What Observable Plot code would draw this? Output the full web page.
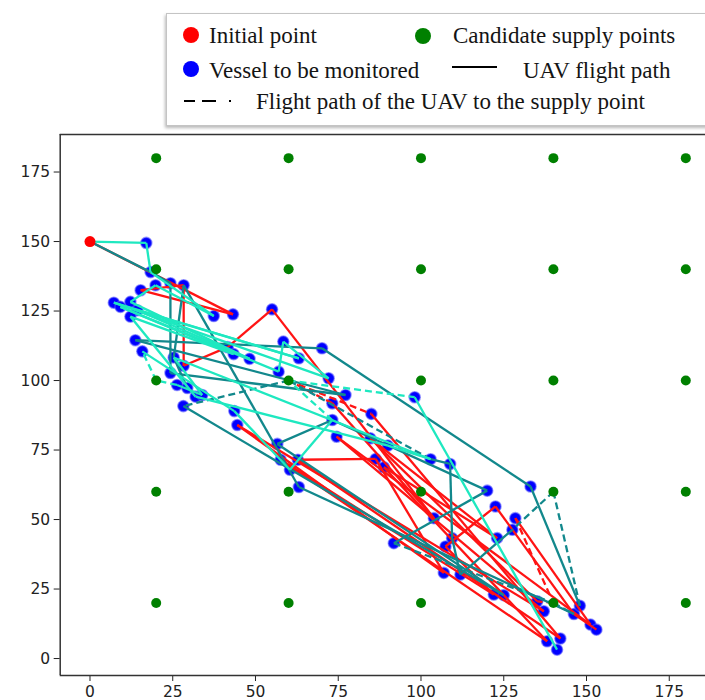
<!DOCTYPE html>
<html><head><meta charset="utf-8">
<script src="https://cdn.jsdelivr.net/npm/d3@7"></script>
<script src="https://cdn.jsdelivr.net/npm/@observablehq/plot@0.6"></script>
<style>
body{margin:0;background:#fff;}
#wrap{position:relative;width:705px;height:700px;overflow:hidden;background:#fff;}
#chart{position:absolute;left:0;top:0;}
#legend{position:absolute;left:166px;top:13px;width:580px;height:111px;border:1.5px solid #c4c4c4;box-shadow:-1px 2px 3px rgba(0,0,0,0.28);background:#fff;font-family:"Liberation Serif","Times New Roman",serif;font-size:23px;color:#141414;}
.item{position:absolute;white-space:nowrap;line-height:1;}
.dot{position:absolute;width:16px;height:16px;border-radius:50%;}
.ln{position:absolute;height:2px;background:#000;}
</style></head>
<body><div id="wrap"><div id="chart"></div><div id="legend"></div></div>
<script>
// ---- data ----
const initialPoint = [0, 150];
const vesselX = [17,18.3,15.3,19.8,24.3,28.3,7.2,9.2,12.2,14.3,12.2,37.4,43.2,13.7,15.8,25.3,28.3,41.6,43.4,48.2,
  24.3,26.3,29.4,31.9,33.9,28.2,43.6,44.5,55,58.4,70.1,63.1,57,72.1,77.2,73.2,98.1,85,73.2,74.5,
  84.7,90,102.9,108.8,56.6,57.6,62.8,60.4,63.1,86.3,88.8,103.9,91.8,120,133.1,122.5,128.5,127.6,123,107.4,
  109.4,106.9,111.9,122,125,135.1,137.1,146.2,148,151.2,153,138.1,142.1,141.1];
const vesselY = [149.5,139,132.5,134.3,135,134.3,128,126.5,128.3,125.3,123,123.2,123.8,114.5,110.5,108.3,105.3,112,109.5,107.8,
  102.7,98.4,97.3,94.2,94.8,90.8,89,84,125.6,114,111.6,108,103.2,100.8,94.8,91.8,94,88,85.8,79.8,
  79.2,76.6,71.7,70,77.2,71.5,71.5,67.9,61.7,71.8,68.8,50.5,41.5,60.4,61.9,54.7,50.5,46.3,43.3,40.3,
  43.3,30.8,30.2,23,22.8,20.6,17,16,19,12.2,10.4,6.2,7.2,3.2];
const supplyX = [20, 60, 100, 140, 180];
const supplyY = [20, 60, 100, 140, 180];
// routes: 0 = initial point, n = vessel n (1-based), "sX,Y" = candidate supply point
const redRoute = [0,13,3,6,17,18,29,52,36,"s60,100",38,73,47,50,62,28,67,40,70,57,"s140,20",66,41,59,51,72,46,64,60,56,68,71];
const tealRoute = [0,2,5,21,35,14,31,55,69,"s140,60",58,63,61,44,43,"s60,100",26,65,45,39,54,53,"s140,20",68,49,6,16,23];
const aquaRoute = [0,1,2,12,4,9,20,10,32,7,34,30,33,8,19,11,24,42,43,16,25,22,"s20,100",15,27,48,39,"s60,100",37,74];
const xTicks = [0,25,50,75,100,125,150,175];
const yTicks = [0,25,50,75,100,125,150,175];
const legendItems = ["Initial point","Candidate supply points","Vessel to be monitored","UAV flight path","Flight path of the UAV to the supply point"];

// ---- build ----
const vessels = vesselX.map((x,i)=>({x, y: vesselY[i]}));
const supplies = supplyX.flatMap(x => supplyY.map(y => ({x, y})));
function stop(s){
  if (typeof s === "string") { const [a,b] = s.slice(1).split(",").map(Number); return {x:a,y:b,sup:true}; }
  if (s === 0) return {x:initialPoint[0], y:initialPoint[1], sup:false};
  return {x:vessels[s-1].x, y:vessels[s-1].y, sup:false};
}
function segs(route){
  const out = [];
  for (let i=1;i<route.length;i++){
    const a = stop(route[i-1]), b = stop(route[i]);
    out.push({x1:a.x,y1:a.y,x2:b.x,y2:b.y,dashed:a.sup||b.sup});
  }
  return out;
}
const routes = [
  {segs: segs(redRoute), color:"#ff1414"},
  {segs: segs(tealRoute), color:"#12888c"},
  {segs: segs(aquaRoute), color:"#1ee8c0"}
];
const lineMarks = routes.flatMap(r => [
  Plot.link(r.segs.filter(d=>!d.dashed), {x1:"x1",y1:"y1",x2:"x2",y2:"y2",stroke:r.color,strokeWidth:2.3}),
  Plot.link(r.segs.filter(d=>d.dashed), {x1:"x1",y1:"y1",x2:"x2",y2:"y2",stroke:r.color,strokeWidth:2.3,strokeDasharray:"7,4"})
]);

const xMin = -9, xMax = 185.95, yMin = -6.1, yMax = 188.5;
const chart = Plot.plot({
  width: 705, height: 700,
  marginLeft: 59.7, marginRight: 0, marginTop: 134, marginBottom: 25,
  x: {domain:[xMin,xMax]},
  y: {domain:[yMin,yMax]},
  style: {fontFamily:"DejaVu Sans, sans-serif", fontSize:"15.5px", color:"#222", background:"transparent"},
  marks: [
    Plot.axisX({ticks:xTicks, tickSize:6, tickPadding:4, label:null, tickFormat:d=>String(d), fontSize:15.5}),
    Plot.axisY({ticks:yTicks, tickSize:6, tickPadding:4, label:null, tickFormat:d=>String(d), fontSize:15.5}),
    Plot.dot(vessels, {x:"x", y:"y", r:5.5, fill:"#0000ff", stroke:"#4b4bff", strokeWidth:1.6, strokeOpacity:0.55}),
    ...lineMarks,
    Plot.dot(supplies, {x:"x", y:"y", r:5, fill:"#008000"}),
    Plot.dot([{x:initialPoint[0], y:initialPoint[1]}], {x:"x", y:"y", r:5.5, fill:"#ff0000"}),
    Plot.ruleX([xMin], {stroke:"#333", strokeWidth:1.5}),
    Plot.ruleY([yMin], {stroke:"#333", strokeWidth:1.5}),
    Plot.ruleY([yMax], {stroke:"#333", strokeWidth:1.5})
  ]
});
document.getElementById("chart").appendChild(chart);

// ---- legend ----
const lg = document.getElementById("legend");
function add(html, left, top, cls){ const e=document.createElement("div"); e.className=cls||"item"; e.style.left=left+"px"; e.style.top=top+"px"; if(html!==null) e.textContent=html; lg.appendChild(e); return e; }
// positions relative to legend box (left 166, top 13)
let d;
d = add(null, 16, 13, "dot"); d.style.background="#ff0000";
add(legendItems[0], 42, 9.5);
d = add(null, 248, 14, "dot"); d.style.background="#008000";
add(legendItems[1], 286, 9.5);
d = add(null, 16, 47, "dot"); d.style.background="#0000ff";
add(legendItems[2], 42, 45);
d = add(null, 285, 52, "ln"); d.style.width="45px";
add(legendItems[3], 356, 45);
d = add(null, 17, 86, "ln"); d.style.width="11px";
d = add(null, 35, 86, "ln"); d.style.width="14px";
d = add(null, 62, 86, "ln"); d.style.width="2px";
add(legendItems[4], 89, 76);
</script>
</body></html>
